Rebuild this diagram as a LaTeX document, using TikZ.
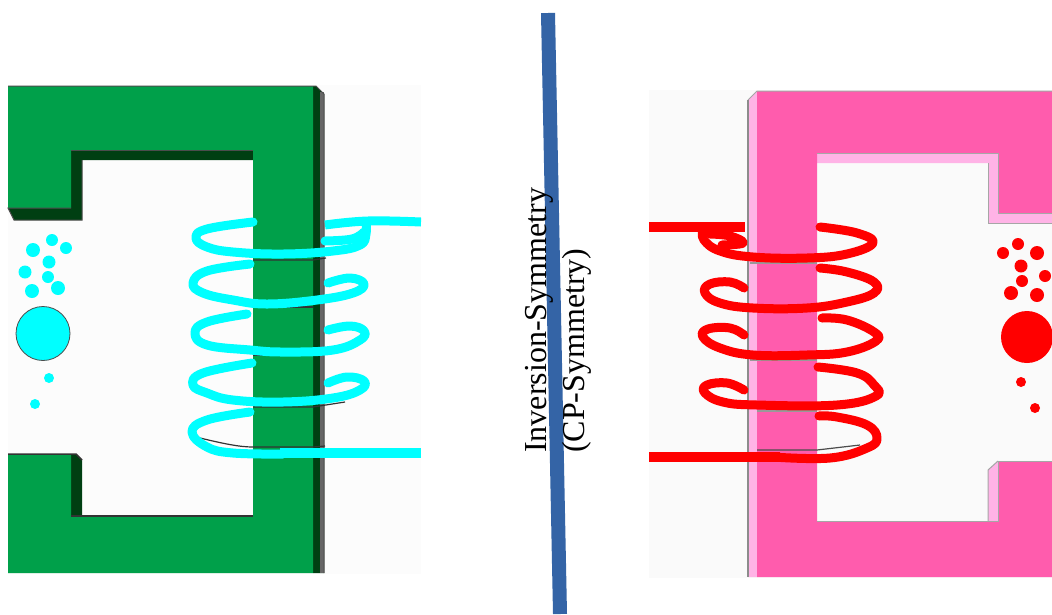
\documentclass[tikz,border=0pt]{standalone}
\usepackage{fontspec}
\setmainfont{Liberation Serif}
\definecolor{coreGreen}{HTML}{00A04A}
\definecolor{coreDark}{HTML}{003F12}
\definecolor{corePink}{HTML}{FF5CAD}
\definecolor{coreLight}{HTML}{FFB3E6}
\definecolor{axisBlue}{HTML}{3464A6}
\definecolor{coilBlue}{RGB}{0,255,255}
\definecolor{coilHot}{RGB}{255,0,0}
\tikzset{
  coilCyan/.style={draw=coilBlue,line width=9pt,line cap=round,line join=round,smooth,tension=0.7},
  coilRed/.style={draw=coilHot,line width=9pt,line cap=round,line join=round,smooth,tension=0.7},
  wireThin/.style={line width=1.2pt},
}
\begin{document}
\begin{tikzpicture}[x=1pt,y=-1pt]
    \useasboundingbox (0,0) rectangle (1052,614);
    \fill[white] (0,0) rectangle (1052,614);
    % left magnet
    \fill[black!1] (8,85) rectangle (421,574);
    \fill[coreDark] (8,208) -- (71,208) -- (71,150) -- (253,150) -- (253,160) -- (82,160) -- (82,220) -- (14,220) -- cycle;
    \fill[coreDark] (313,86) -- (316,86) -- (324,94) -- (324,573) -- (313,573) -- cycle;
    \fill[black!60] (320,92) rectangle (324,573);
    \fill[coreDark] (71,454) -- (76,454) -- (82,460) -- (82,517) -- (71,517) -- cycle;
    \fill[coreGreen] (8,86) -- (313,86) -- (313,573) -- (8,573) -- (8,454) -- (71,454) -- (71,517) -- (253,517) -- (253,150) -- (71,150) -- (71,208) -- (8,208) -- cycle;
    \draw[black!70,line width=1pt] (8,86) -- (316,86) -- (324,94) -- (324,573);
    \draw[black!70,line width=1pt] (71,208) -- (8,208) -- (14,220) -- (82,220) -- (82,160);
    \draw[black!70,line width=1pt] (71,150) -- (253,150);
    \draw[black!80,line width=1.5pt] (8,454) -- (76,454) -- (82,460);
    \draw[black!80,line width=1.5pt] (71,516) -- (253,516);
    % thin lines of the left coil
    \draw[black!80,wireThin] (253,260) -- (313,260) -- (326,258);
    \draw[black!80,wireThin] (270,307) -- (313,307);
    \draw[black!80,wireThin] (253,355) -- (313,355);
    \draw[black!80,wireThin] (253,407) -- (313,407) -- (345,402);
    \draw[black!80,wireThin] (200,438) .. controls (225,444) and (240,447) .. (253,447) -- (313,447) -- (325,446);
    % left coil
    \draw[coilCyan,line cap=butt] plot coordinates {(421,222) (368,221) (325,225)};
    \draw[coilCyan] plot coordinates {(325,241) (352,239) (364,232)};
    \draw[coilCyan] plot coordinates {(253,222) (207,229) (196,238) (207,247) (233,252) (283,254) (333,251) (360,245) (366,234) (366,222)};
    \draw[coilCyan] plot coordinates {(250,264) (207,271) (193,283) (203,293) (233,300) (267,304) (317,300) (353,293) (364,284) (350,278) (328,283)};
    \draw[coilCyan] plot coordinates {(247,314) (207,322) (195,333) (207,345) (250,350) (283,352) (333,350) (360,340) (364,331) (350,326) (328,330)};
    \draw[coilCyan] plot coordinates {(252,363) (203,373) (193,385) (207,393) (233,400) (283,402) (333,398) (360,390) (364,381) (347,377) (328,383)};
    \draw[coilCyan] plot coordinates {(250,412) (207,420) (192,432) (207,447) (233,453) (283,454)};
    \draw[draw=coilBlue,line width=10pt] (280,453) -- (421,453);
    % left charges
    \fill[coilBlue,draw=black!70,line width=.8pt] (43,333.5) circle (27);
    \foreach \px/\py/\pr in {52/240/6,33/250/7,66/248/6,49/262/6.5,25/272/6.5,48/277/6,32/291/7,58/288/7,49/378/5,35/404/5}
        \fill[coilBlue] (\px,\py) circle (\pr);
    % right magnet
    \fill[black!2] (649,90) rectangle (1052,578);
    \fill[coreLight] (748,100) -- (757,91) -- (757,577) -- (748,577) -- cycle;
    \fill[coreLight] (817,153) -- (998,153) -- (998,213) -- (1052,213) -- (1052,223) -- (988,223) -- (988,163) -- (817,163) -- cycle;
    \fill[coreLight] (988,470) -- (998,461) -- (998,521) -- (988,521) -- cycle;
    \fill[corePink] (757,91) -- (1052,91) -- (1052,213) -- (998,213) -- (998,153) -- (817,153) -- (817,521) -- (998,521) -- (998,461) -- (1052,461) -- (1052,577) -- (757,577) -- cycle;
    \draw[black!35,line width=1pt] (1052,91) -- (757,91) -- (748,100);
    \draw[black!45,line width=2pt] (748,100) -- (748,577);
    \draw[black!35,line width=1pt] (817,153) -- (998,153) -- (998,213) -- (1052,213);
    \draw[black!35,line width=1pt] (988,163) -- (988,223) -- (1052,223);
    \draw[black!35,line width=1pt] (817,521) -- (998,521) -- (998,461) -- (1052,461);
    \draw[black!35,line width=1pt] (988,521) -- (988,470) -- (998,461);
    % thin lines of the right coil
    \draw[black!40,wireThin] (750,263) -- (817,263);
    \draw[black!40,wireThin] (750,360) -- (817,360);
    \draw[black!40,wireThin] (757,411) -- (817,411);
    \draw[black!70,wireThin] (757,450) -- (817,450) -- (860,445);
    % right coil
    \draw[draw=coilHot,line width=10pt] (649,227) -- (745,227);
    \draw[coilRed] plot coordinates {(703,230) (704,240) (720,251) (753,257) (807,258) (847,254) (873,243) (857,233) (820,227)};
    \draw[coilRed] plot coordinates {(710,234) (730,236) (743,243) (722,245)};
    \draw[coilRed] plot coordinates {(744,288) (730,282) (710,284) (705,293) (720,303) (753,308) (807,308) (847,302) (874,293) (874,282) (847,272) (820,268)};
    \draw[coilRed] plot coordinates {(744,335) (730,328) (708,329) (703,337) (720,348) (753,355) (807,355) (847,352) (876,341) (874,332) (847,320) (822,318)};
    \draw[coilRed] plot coordinates {(744,390) (727,383) (707,385) (705,393) (723,402) (757,405) (837,405) (876,396) (874,385) (857,373) (818,367)};
    \draw[coilRed] plot coordinates {(819,416) (837,417) (867,425) (877,438) (867,448) (830,458) (773,457)};
    \draw[draw=coilHot,line width=10pt] (649,457) -- (780,457);
    % right charges
    \fill[coilHot] (1027,337) circle (26);
    \foreach \px/\py/\pr in {1018/244/6,1003/253/6,1037/253/7,1021/266/6.5,1045/276/6,1022/281/6,1011/293/7,1037/295/7,1021/382/5,1035/408/5}
        \fill[coilHot] (\px,\py) circle (\pr);
    % symmetry axis
    \coordinate (axisTop) at (548,13);
    \coordinate (axisBot) at (560,614);
    \draw[axisBlue,line width=14pt] (axisTop) -- (axisBot);
    \node[rotate=90,anchor=south west,align=left,inner sep=0pt,font=\fontsize{32}{38}\selectfont] (labelSym) at (592,453) {Inversion-Symmetry\\(CP-Symmetry)};
\end{tikzpicture}
\end{document}
